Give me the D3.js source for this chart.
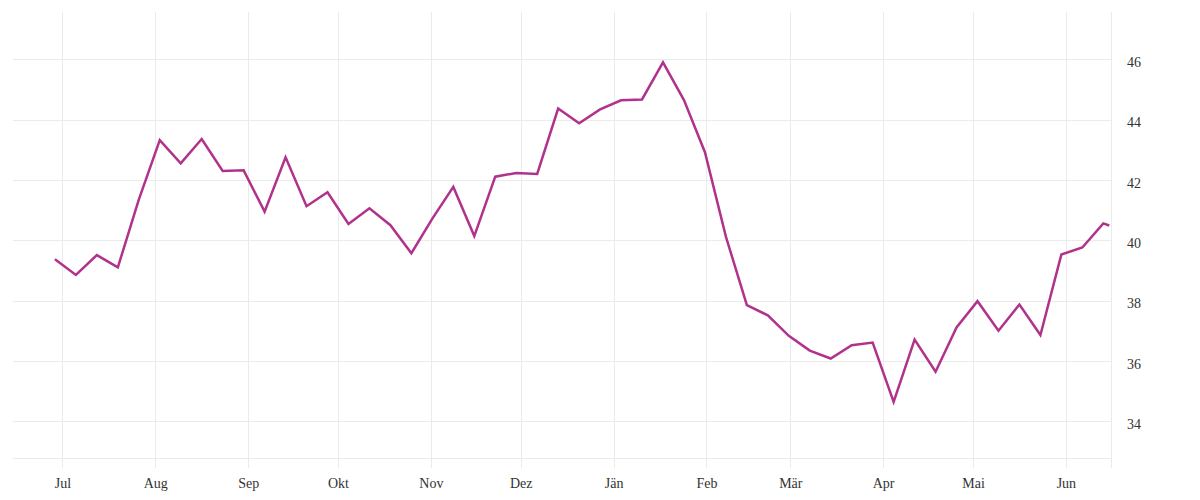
<!DOCTYPE html>
<html>
<head>
<meta charset="utf-8">
<script src="https://cdn.jsdelivr.net/npm/d3@7"></script>
<style>
  html, body { margin: 0; padding: 0; background: #ffffff; }
  svg { display: block; }
  .tick text { font-family: "Liberation Serif", serif; font-size: 14px; fill: #333333; }
</style>
</head>
<body>
<svg id="chart" width="1200" height="500"></svg>
<script>
// ---- data ----
const dates = [
  "2022-06-28","2022-07-05","2022-07-12","2022-07-19","2022-07-26",
  "2022-08-02","2022-08-09","2022-08-16","2022-08-23","2022-08-30",
  "2022-09-06","2022-09-13","2022-09-20","2022-09-27",
  "2022-10-04","2022-10-11","2022-10-18","2022-10-25",
  "2022-11-01","2022-11-08","2022-11-15","2022-11-22","2022-11-29",
  "2022-12-06","2022-12-13","2022-12-20","2022-12-27",
  "2023-01-03","2023-01-10","2023-01-17","2023-01-24","2023-01-31",
  "2023-02-07","2023-02-14","2023-02-21","2023-02-28",
  "2023-03-07","2023-03-14","2023-03-21","2023-03-28",
  "2023-04-04","2023-04-11","2023-04-18","2023-04-25",
  "2023-05-02","2023-05-09","2023-05-16","2023-05-23","2023-05-30",
  "2023-06-06","2023-06-13","2023-06-15"
];
const values = [
  39.37, 38.85, 39.51, 39.10, 41.35,
  43.32, 42.55, 43.36, 42.30, 42.32,
  40.95, 42.75, 41.13, 41.59,
  40.54, 41.06, 40.50, 39.57,
  40.72, 41.77, 40.14, 42.11, 42.23,
  42.20, 44.37, 43.88, 44.34,
  44.64, 44.67, 45.90, 44.65, 42.92,
  40.12, 37.85, 37.51, 36.83,
  36.34, 36.08, 36.52, 36.61,
  34.64, 36.71, 35.64, 37.11,
  37.98, 37.00, 37.87, 36.86, 39.53,
  39.76, 40.56, 40.49
];
const monthLabels = ["Jul","Aug","Sep","Okt","Nov","Dez","Jän","Feb","Mär","Apr","Mai","Jun"];
const yTicks = [34, 36, 38, 40, 42, 44, 46];

(function () {
  // ---- layout ----
  const pLeft = 13, pRight = 1110.8, pTop = 12, pBottom = 458, gridBottom = 468;
  const parse = d3.timeParse("%Y-%m-%d");
  const data = dates.map((d, i) => ({ date: d3.timeHour.offset(parse(d), 12), value: values[i] }));

  const x = d3.scaleTime()
    .domain([d3.timeHour.offset(parse("2022-06-14"), 12), parse("2023-06-16")])
    .range([pLeft, pRight]);
  const y = d3.scaleLinear()
    .domain([32.78, 47.57])
    .range([pBottom, pTop]);

  const monthTicks = d3.timeMonth.range(parse("2022-07-01"), parse("2023-06-02"));

  const svg = d3.select("#chart");
  const grid = "#ebebeb";

  // vertical gridlines
  svg.append("g").selectAll("line").data(monthTicks).join("line")
    .attr("x1", d => Math.round(x(d)) + 0.5).attr("x2", d => Math.round(x(d)) + 0.5)
    .attr("y1", pTop).attr("y2", gridBottom)
    .attr("stroke", grid).attr("stroke-width", 1);

  // horizontal gridlines
  svg.append("g").selectAll("line").data(yTicks).join("line")
    .attr("x1", pLeft).attr("x2", pRight)
    .attr("y1", d => Math.round(y(d)) + 0.5).attr("y2", d => Math.round(y(d)) + 0.5)
    .attr("stroke", grid).attr("stroke-width", 1);

  // bottom baseline
  svg.append("line")
    .attr("x1", pLeft).attr("x2", pRight)
    .attr("y1", pBottom + 0.5).attr("y2", pBottom + 0.5)
    .attr("stroke", grid).attr("stroke-width", 1);

  // right axis line
  svg.append("line")
    .attr("x1", Math.round(pRight) + 0.5).attr("x2", Math.round(pRight) + 0.5)
    .attr("y1", pTop).attr("y2", gridBottom)
    .attr("stroke", grid).attr("stroke-width", 1);

  // x axis labels
  const xAxis = d3.axisBottom(x)
    .tickValues(monthTicks)
    .tickFormat((d, i) => monthLabels[i])
    .tickSize(0)
    .tickPadding(0);
  const gx = svg.append("g").attr("transform", "translate(0,488)").call(xAxis);
  gx.select(".domain").remove();
  gx.selectAll(".tick text").attr("dy", 0).attr("y", 0);

  // y axis labels (right)
  const yAxis = d3.axisRight(y)
    .tickValues(yTicks)
    .tickFormat(d3.format("d"))
    .tickSize(0)
    .tickPadding(0);
  const gy = svg.append("g").attr("transform", "translate(1127,0)").call(yAxis);
  gy.select(".domain").remove();
  gy.selectAll(".tick text").attr("x", 0).attr("dy", "0.52em").attr("text-anchor", "start");

  // line
  const line = d3.line().x(d => x(d.date)).y(d => y(d.value));
  svg.append("path")
    .datum(data)
    .attr("d", line)
    .attr("fill", "none")
    .attr("stroke", "#b1328b")
    .attr("stroke-width", 2.5)
    .attr("stroke-linejoin", "miter");
})();
</script>
</body>
</html>
